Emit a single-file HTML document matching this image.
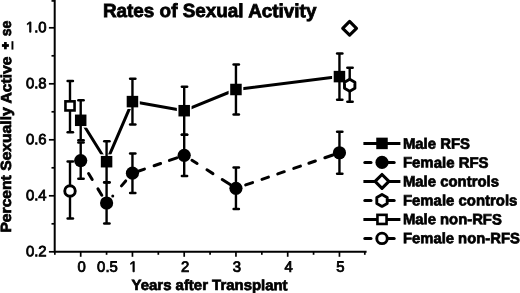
<!DOCTYPE html>
<html><head><meta charset="utf-8"><style>
html,body{margin:0;padding:0;background:#fff;width:520px;height:293px;overflow:hidden}
svg{display:block;will-change:transform}
text{font-family:"Liberation Sans",sans-serif;fill:#000;stroke:#000}
.tl{font-size:14.9px;stroke-width:0.8px}
.title{font-size:19px;font-weight:bold;stroke-width:0.8px}
.lab{font-size:14.8px;font-weight:bold;stroke-width:0.7px}
.leg{font-size:15px;font-weight:bold;stroke-width:0.7px}
</style></head><body>
<svg width="520" height="293" viewBox="0 0 520 293">
<path d="M54.7 0 V251.80 H365.6" fill="none" stroke="#000" stroke-width="2" stroke-linejoin="miter" stroke-linecap="square"/>
<line x1="48.900000000000006" y1="251.80" x2="54.7" y2="251.80" stroke="#000" stroke-width="1.7"/>
<line x1="48.900000000000006" y1="195.80" x2="54.7" y2="195.80" stroke="#000" stroke-width="1.7"/>
<line x1="48.900000000000006" y1="139.80" x2="54.7" y2="139.80" stroke="#000" stroke-width="1.7"/>
<line x1="48.900000000000006" y1="83.80" x2="54.7" y2="83.80" stroke="#000" stroke-width="1.7"/>
<line x1="48.900000000000006" y1="27.80" x2="54.7" y2="27.80" stroke="#000" stroke-width="1.7"/>
<line x1="51.5" y1="223.80" x2="54.7" y2="223.80" stroke="#000" stroke-width="1.7"/>
<line x1="51.5" y1="167.80" x2="54.7" y2="167.80" stroke="#000" stroke-width="1.7"/>
<line x1="51.5" y1="111.80" x2="54.7" y2="111.80" stroke="#000" stroke-width="1.7"/>
<line x1="51.5" y1="55.80" x2="54.7" y2="55.80" stroke="#000" stroke-width="1.7"/>
<line x1="51.5" y1="0.90" x2="54.7" y2="0.90" stroke="#000" stroke-width="1.7"/>
<line x1="80.70" y1="251.80" x2="80.70" y2="256.80" stroke="#000" stroke-width="1.7"/>
<line x1="132.45" y1="251.80" x2="132.45" y2="256.80" stroke="#000" stroke-width="1.7"/>
<line x1="184.20" y1="251.80" x2="184.20" y2="256.80" stroke="#000" stroke-width="1.7"/>
<line x1="235.95" y1="251.80" x2="235.95" y2="256.80" stroke="#000" stroke-width="1.7"/>
<line x1="287.70" y1="251.80" x2="287.70" y2="256.80" stroke="#000" stroke-width="1.7"/>
<line x1="339.45" y1="251.80" x2="339.45" y2="256.80" stroke="#000" stroke-width="1.7"/>
<line x1="54.83" y1="251.80" x2="54.83" y2="254.80" stroke="#000" stroke-width="1.7"/>
<line x1="106.58" y1="251.80" x2="106.58" y2="254.80" stroke="#000" stroke-width="1.7"/>
<line x1="158.32" y1="251.80" x2="158.32" y2="254.80" stroke="#000" stroke-width="1.7"/>
<line x1="210.07" y1="251.80" x2="210.07" y2="254.80" stroke="#000" stroke-width="1.7"/>
<line x1="261.82" y1="251.80" x2="261.82" y2="254.80" stroke="#000" stroke-width="1.7"/>
<line x1="313.57" y1="251.80" x2="313.57" y2="254.80" stroke="#000" stroke-width="1.7"/>
<line x1="364.8" y1="251.80" x2="364.8" y2="254.80" stroke="#000" stroke-width="1.7"/>
<path transform="translate(25.89 32.20) scale(0.00728 -0.00728)" d="M515 0L515 1237L197 1010L197 1180L530 1409L696 1409L696 0Z" fill="#000" stroke="#000" stroke-width="110.0"/>
<text transform="translate(34.17 32.20) matrix(1 0.001 0 1 0 0)" class="tl">.0</text>
<text transform="translate(25.89 88.20) matrix(1 0.001 0 1 0 0)" class="tl">0.8</text>
<text transform="translate(25.89 144.20) matrix(1 0.001 0 1 0 0)" class="tl">0.6</text>
<text transform="translate(25.89 200.20) matrix(1 0.001 0 1 0 0)" class="tl">0.4</text>
<text transform="translate(25.89 256.20) matrix(1 0.001 0 1 0 0)" class="tl">0.2</text>
<text transform="translate(77.46 271.80) matrix(1 0.001 0 1 0 0)" class="tl">0</text>
<text transform="translate(97.12 271.80) matrix(1 0.001 0 1 0 0)" class="tl">0.5</text>
<path transform="translate(129.21 271.80) scale(0.00728 -0.00728)" d="M515 0L515 1237L197 1010L197 1180L530 1409L696 1409L696 0Z" fill="#000" stroke="#000" stroke-width="110.0"/>
<text transform="translate(180.96 271.80) matrix(1 0.001 0 1 0 0)" class="tl">2</text>
<text transform="translate(232.71 271.80) matrix(1 0.001 0 1 0 0)" class="tl">3</text>
<text transform="translate(284.46 271.80) matrix(1 0.001 0 1 0 0)" class="tl">4</text>
<text transform="translate(336.21 271.80) matrix(1 0.001 0 1 0 0)" class="tl">5</text>
<text transform="translate(102.90 17.00) matrix(1 0.001 0 1 0 0)" class="title" textLength="213.50" lengthAdjust="spacingAndGlyphs">Rates of Sexual Activity</text>
<text transform="translate(131.60 290.00) matrix(1 0.001 0 1 0 0)" class="lab" textLength="156.00" lengthAdjust="spacingAndGlyphs">Years after Transplant</text>
<text transform="translate(11.00 232.60) rotate(-90) matrix(1 0.001 0 1 0 0)" class="lab" textLength="176.10" lengthAdjust="spacingAndGlyphs">Percent Sexually Active</text>
<text transform="translate(11.00 36.20) rotate(-90) matrix(1 0.001 0 1 0 0)" class="lab" textLength="15.60" lengthAdjust="spacingAndGlyphs">se</text>
<rect x="1.9" y="44.1" width="7.0" height="2.8" fill="#000"/>
<rect x="4.05" y="42.0" width="2.7" height="7.3" fill="#000"/>
<rect x="11.5" y="41.2" width="1.9" height="8.4" fill="#000"/>
<polyline points="80.70,120.30 106.58,161.70 132.45,101.60 184.20,110.70 235.95,89.50 339.45,76.60" fill="none" stroke="#000" stroke-width="3" stroke-linejoin="round" stroke-linecap="round"/>
<line x1="88.57" y1="173.49" x2="92.21" y2="179.46" stroke="#000" stroke-width="3" stroke-linecap="round"/>
<line x1="97.94" y1="188.85" x2="101.80" y2="195.17" stroke="#000" stroke-width="3" stroke-linecap="round"/>
<circle cx="112.74" cy="195.90" r="1.5" fill="#000"/>
<line x1="121.46" y1="185.86" x2="125.72" y2="180.95" stroke="#000" stroke-width="3" stroke-linecap="round"/>
<line x1="136.70" y1="171.73" x2="144.45" y2="169.05" stroke="#000" stroke-width="3" stroke-linecap="round"/>
<line x1="154.09" y1="165.71" x2="160.61" y2="163.46" stroke="#000" stroke-width="3" stroke-linecap="round"/>
<line x1="169.40" y1="160.42" x2="176.87" y2="157.84" stroke="#000" stroke-width="3" stroke-linecap="round"/>
<line x1="191.96" y1="160.25" x2="197.10" y2="163.53" stroke="#000" stroke-width="3" stroke-linecap="round"/>
<line x1="206.97" y1="169.82" x2="212.95" y2="173.63" stroke="#000" stroke-width="3" stroke-linecap="round"/>
<line x1="222.23" y1="179.55" x2="230.15" y2="184.60" stroke="#000" stroke-width="3" stroke-linecap="round"/>
<line x1="245.69" y1="184.95" x2="252.60" y2="182.58" stroke="#000" stroke-width="3" stroke-linecap="round"/>
<line x1="261.96" y1="179.37" x2="268.44" y2="177.14" stroke="#000" stroke-width="3" stroke-linecap="round"/>
<line x1="277.75" y1="173.94" x2="284.28" y2="171.70" stroke="#000" stroke-width="3" stroke-linecap="round"/>
<line x1="293.74" y1="168.45" x2="300.45" y2="166.15" stroke="#000" stroke-width="3" stroke-linecap="round"/>
<line x1="308.87" y1="163.25" x2="315.39" y2="161.01" stroke="#000" stroke-width="3" stroke-linecap="round"/>
<line x1="324.85" y1="157.76" x2="332.89" y2="155.00" stroke="#000" stroke-width="3" stroke-linecap="round"/>
<rect x="73.35" y="112.95" width="14.70" height="14.70" fill="#fff"/>
<rect x="99.23" y="154.35" width="14.70" height="14.70" fill="#fff"/>
<rect x="125.10" y="94.25" width="14.70" height="14.70" fill="#fff"/>
<rect x="176.85" y="103.35" width="14.70" height="14.70" fill="#fff"/>
<rect x="228.60" y="82.15" width="14.70" height="14.70" fill="#fff"/>
<rect x="332.10" y="69.25" width="14.70" height="14.70" fill="#fff"/>
<line x1="80.70" y1="100.30" x2="80.70" y2="140.30" stroke="#000" stroke-width="2.4"/>
<line x1="78.35" y1="100.30" x2="83.65" y2="100.30" stroke="#000" stroke-width="2.5" stroke-linecap="round"/>
<line x1="78.35" y1="140.30" x2="83.65" y2="140.30" stroke="#000" stroke-width="2.5" stroke-linecap="round"/>
<line x1="106.58" y1="141.20" x2="106.58" y2="182.20" stroke="#000" stroke-width="2.4"/>
<line x1="104.22" y1="141.20" x2="109.53" y2="141.20" stroke="#000" stroke-width="2.5" stroke-linecap="round"/>
<line x1="104.22" y1="182.20" x2="109.53" y2="182.20" stroke="#000" stroke-width="2.5" stroke-linecap="round"/>
<line x1="132.45" y1="78.80" x2="132.45" y2="124.40" stroke="#000" stroke-width="2.4"/>
<line x1="130.10" y1="78.80" x2="135.40" y2="78.80" stroke="#000" stroke-width="2.5" stroke-linecap="round"/>
<line x1="130.10" y1="124.40" x2="135.40" y2="124.40" stroke="#000" stroke-width="2.5" stroke-linecap="round"/>
<line x1="184.20" y1="86.70" x2="184.20" y2="134.70" stroke="#000" stroke-width="2.4"/>
<line x1="181.85" y1="86.70" x2="187.15" y2="86.70" stroke="#000" stroke-width="2.5" stroke-linecap="round"/>
<line x1="181.85" y1="134.70" x2="187.15" y2="134.70" stroke="#000" stroke-width="2.5" stroke-linecap="round"/>
<line x1="235.95" y1="64.40" x2="235.95" y2="114.60" stroke="#000" stroke-width="2.4"/>
<line x1="233.60" y1="64.40" x2="238.90" y2="64.40" stroke="#000" stroke-width="2.5" stroke-linecap="round"/>
<line x1="233.60" y1="114.60" x2="238.90" y2="114.60" stroke="#000" stroke-width="2.5" stroke-linecap="round"/>
<line x1="339.45" y1="53.50" x2="339.45" y2="99.70" stroke="#000" stroke-width="2.4"/>
<line x1="337.10" y1="53.50" x2="342.40" y2="53.50" stroke="#000" stroke-width="2.5" stroke-linecap="round"/>
<line x1="337.10" y1="99.70" x2="342.40" y2="99.70" stroke="#000" stroke-width="2.5" stroke-linecap="round"/>
<line x1="80.70" y1="142.40" x2="80.70" y2="178.80" stroke="#000" stroke-width="2.4"/>
<line x1="78.35" y1="142.40" x2="83.65" y2="142.40" stroke="#000" stroke-width="2.5" stroke-linecap="round"/>
<line x1="78.35" y1="178.80" x2="83.65" y2="178.80" stroke="#000" stroke-width="2.5" stroke-linecap="round"/>
<line x1="106.58" y1="182.60" x2="106.58" y2="223.40" stroke="#000" stroke-width="2.4"/>
<line x1="104.22" y1="182.60" x2="109.53" y2="182.60" stroke="#000" stroke-width="2.5" stroke-linecap="round"/>
<line x1="104.22" y1="223.40" x2="109.53" y2="223.40" stroke="#000" stroke-width="2.5" stroke-linecap="round"/>
<line x1="132.45" y1="153.50" x2="132.45" y2="192.90" stroke="#000" stroke-width="2.4"/>
<line x1="130.10" y1="153.50" x2="135.40" y2="153.50" stroke="#000" stroke-width="2.5" stroke-linecap="round"/>
<line x1="130.10" y1="192.90" x2="135.40" y2="192.90" stroke="#000" stroke-width="2.5" stroke-linecap="round"/>
<line x1="184.20" y1="134.70" x2="184.20" y2="175.90" stroke="#000" stroke-width="2.4"/>
<line x1="181.85" y1="134.70" x2="187.15" y2="134.70" stroke="#000" stroke-width="2.5" stroke-linecap="round"/>
<line x1="181.85" y1="175.90" x2="187.15" y2="175.90" stroke="#000" stroke-width="2.5" stroke-linecap="round"/>
<line x1="235.95" y1="167.55" x2="235.95" y2="209.05" stroke="#000" stroke-width="2.4"/>
<line x1="233.60" y1="167.55" x2="238.90" y2="167.55" stroke="#000" stroke-width="2.5" stroke-linecap="round"/>
<line x1="233.60" y1="209.05" x2="238.90" y2="209.05" stroke="#000" stroke-width="2.5" stroke-linecap="round"/>
<line x1="339.45" y1="131.75" x2="339.45" y2="173.75" stroke="#000" stroke-width="2.4"/>
<line x1="337.10" y1="131.75" x2="342.40" y2="131.75" stroke="#000" stroke-width="2.5" stroke-linecap="round"/>
<line x1="337.10" y1="173.75" x2="342.40" y2="173.75" stroke="#000" stroke-width="2.5" stroke-linecap="round"/>
<line x1="349.70" y1="67.70" x2="349.70" y2="101.80" stroke="#000" stroke-width="2.4"/>
<line x1="347.35" y1="67.70" x2="352.65" y2="67.70" stroke="#000" stroke-width="2.5" stroke-linecap="round"/>
<line x1="347.35" y1="101.80" x2="352.65" y2="101.80" stroke="#000" stroke-width="2.5" stroke-linecap="round"/>
<line x1="70.00" y1="81.10" x2="70.00" y2="132.30" stroke="#000" stroke-width="2.4"/>
<line x1="67.65" y1="81.10" x2="72.95" y2="81.10" stroke="#000" stroke-width="2.5" stroke-linecap="round"/>
<line x1="67.65" y1="132.30" x2="72.95" y2="132.30" stroke="#000" stroke-width="2.5" stroke-linecap="round"/>
<line x1="70.00" y1="161.50" x2="70.00" y2="218.50" stroke="#000" stroke-width="2.4"/>
<line x1="67.65" y1="161.50" x2="72.95" y2="161.50" stroke="#000" stroke-width="2.5" stroke-linecap="round"/>
<line x1="67.65" y1="218.50" x2="72.95" y2="218.50" stroke="#000" stroke-width="2.5" stroke-linecap="round"/>
<rect x="74.95" y="114.55" width="11.50" height="11.50" fill="#000"/>
<rect x="100.83" y="155.95" width="11.50" height="11.50" fill="#000"/>
<rect x="126.70" y="95.85" width="11.50" height="11.50" fill="#000"/>
<rect x="178.45" y="104.95" width="11.50" height="11.50" fill="#000"/>
<rect x="230.20" y="83.75" width="11.50" height="11.50" fill="#000"/>
<rect x="333.70" y="70.85" width="11.50" height="11.50" fill="#000"/>
<circle cx="80.70" cy="160.60" r="6.6" fill="#000"/>
<circle cx="106.58" cy="203.00" r="6.6" fill="#000"/>
<circle cx="132.45" cy="173.20" r="6.6" fill="#000"/>
<circle cx="184.20" cy="155.30" r="6.6" fill="#000"/>
<circle cx="235.95" cy="188.30" r="6.6" fill="#000"/>
<circle cx="339.45" cy="152.75" r="6.6" fill="#000"/>
<path d="M349.60 21.40 L356.50 28.30 L349.60 35.20 L342.70 28.30Z" fill="#fff" stroke="#000" stroke-width="3.1" stroke-linejoin="round"/>
<polygon points="349.70,79.20 354.90,82.20 354.90,88.20 349.70,91.20 344.50,88.20 344.50,82.20" fill="#fff" stroke="#000" stroke-width="2.9" stroke-linejoin="round"/>
<rect x="65.45" y="101.35" width="9.10" height="9.10" fill="#fff" stroke="#000" stroke-width="2.6"/>
<circle cx="70.00" cy="191.00" r="5.25" fill="#fff" stroke="#000" stroke-width="2.9"/>
<line x1="363.4" y1="143.40" x2="400.4" y2="143.40" stroke="#000" stroke-width="3"/>
<rect x="376.25" y="137.65" width="11.50" height="11.50" fill="#000"/>
<text transform="translate(402.90 148.70) matrix(1 0.001 0 1 0 0)" class="leg" textLength="67.10" lengthAdjust="spacingAndGlyphs">Male RFS</text>
<line x1="364.8" y1="162.40" x2="371.0" y2="162.40" stroke="#000" stroke-width="3" stroke-linecap="round"/>
<line x1="386.0" y1="162.40" x2="394.2" y2="162.40" stroke="#000" stroke-width="3" stroke-linecap="round"/>
<circle cx="382.00" cy="162.40" r="6.6" fill="#000"/>
<text transform="translate(402.90 167.60) matrix(1 0.001 0 1 0 0)" class="leg" textLength="85.70" lengthAdjust="spacingAndGlyphs">Female RFS</text>
<line x1="363.4" y1="181.40" x2="400.4" y2="181.40" stroke="#000" stroke-width="3"/>
<path d="M382.00 174.50 L388.90 181.40 L382.00 188.30 L375.10 181.40Z" fill="#fff" stroke="#000" stroke-width="3.1" stroke-linejoin="round"/>
<text transform="translate(402.90 186.50) matrix(1 0.001 0 1 0 0)" class="leg" textLength="96.10" lengthAdjust="spacingAndGlyphs">Male controls</text>
<line x1="364.8" y1="200.40" x2="371.0" y2="200.40" stroke="#000" stroke-width="3" stroke-linecap="round"/>
<line x1="386.0" y1="200.40" x2="394.2" y2="200.40" stroke="#000" stroke-width="3" stroke-linecap="round"/>
<polygon points="382.00,194.40 387.20,197.40 387.20,203.40 382.00,206.40 376.80,203.40 376.80,197.40" fill="#fff" stroke="#000" stroke-width="2.9" stroke-linejoin="round"/>
<text transform="translate(402.90 205.40) matrix(1 0.001 0 1 0 0)" class="leg" textLength="114.50" lengthAdjust="spacingAndGlyphs">Female controls</text>
<line x1="363.4" y1="219.40" x2="400.4" y2="219.40" stroke="#000" stroke-width="3"/>
<rect x="377.45" y="214.85" width="9.10" height="9.10" fill="#fff" stroke="#000" stroke-width="2.6"/>
<text transform="translate(402.90 224.30) matrix(1 0.001 0 1 0 0)" class="leg" textLength="98.90" lengthAdjust="spacingAndGlyphs">Male non-RFS</text>
<line x1="364.8" y1="238.40" x2="371.0" y2="238.40" stroke="#000" stroke-width="3" stroke-linecap="round"/>
<line x1="386.0" y1="238.40" x2="394.2" y2="238.40" stroke="#000" stroke-width="3" stroke-linecap="round"/>
<circle cx="382.00" cy="238.40" r="5.25" fill="#fff" stroke="#000" stroke-width="2.9"/>
<text transform="translate(402.90 243.20) matrix(1 0.001 0 1 0 0)" class="leg" textLength="117.00" lengthAdjust="spacingAndGlyphs">Female non-RFS</text>
</svg>
</body></html>
